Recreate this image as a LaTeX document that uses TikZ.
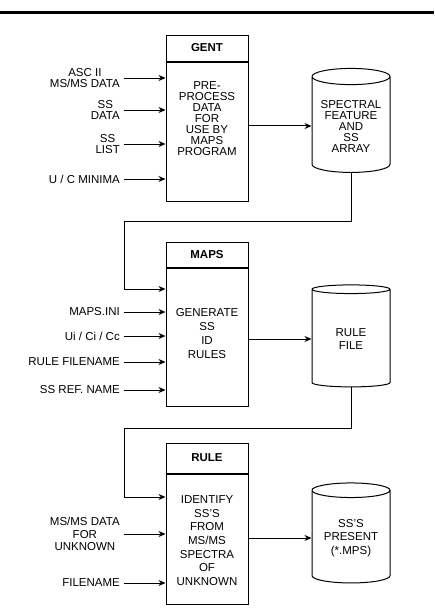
\documentclass[tikz,border=0pt]{standalone}
\usepackage{fontspec}
\setmainfont{Liberation Sans}
\usetikzlibrary{positioning}
\usetikzlibrary{arrows.meta}
\usetikzlibrary{shapes.geometric}

\begin{document}
\begin{tikzpicture}
  [x=1pt, y=-1pt, >={Stealth[length=7pt, width=6pt]},
   every node/.style={font=\fontsize{11.5}{11}\selectfont, align=center, inner sep=2pt},
   title/.style={rectangle, draw, line width=1pt, minimum width=82pt, font=\fontsize{11.5}{11}\selectfont\bfseries},
   job/.style={rectangle, draw, line width=1pt, minimum width=82pt},
   drum/.style={cylinder, draw, line width=1pt, shape border rotate=90, aspect=0.25, minimum width=78pt},
   feed/.style={anchor=east, inner xsep=4pt},
   wide/.style={font=\fontsize{11.5}{13.7}\selectfont},
   flow/.style={->, line width=1pt}]
  \useasboundingbox (0,0) rectangle (434,608);
  \draw[line width=2.5pt] (0,12.5) -- (434,12.5);

  % GENT
  \node (gent) [title, minimum height=26pt] at (207,48) {GENT};
  \node (gentbox) [job, minimum height=139pt, below=0pt of gent] {};
  \node (gentjob) at (207,119) {PRE-\\PROCESS\\DATA\\FOR\\USE BY\\MAPS\\PROGRAM};
  \node (ascii) [feed] at (124,78) {ASC II\\MS/MS DATA};
  \node (ssdata) [feed] at (124,110) {SS\\DATA};
  \node (sslist) [feed] at (124,144) {SS\\LIST};
  \node (minima) [feed] at (124,179) {U / C MINIMA};
  \node (spectra) [drum, minimum height=104pt] at (351,126) {SPECTRAL\\FEATURE\\AND\\SS\\ARRAY};

  % MAPS
  \node (maps) [title, minimum height=25pt] at (207,254.5) {MAPS};
  \node (mapsbox) [job, minimum height=138pt, below=0pt of maps] {};
  \node (mapsjob) [wide] at (207,333.5) {GENERATE\\SS\\ID\\RULES};
  \node (mapsini) [feed] at (124,312) {MAPS.INI};
  \node (ratios) [feed] at (124,336) {Ui / Ci / Cc};
  \node (rulename) [feed] at (124,362) {RULE FILENAME};
  \node (ssref) [feed] at (124,390) {SS REF. NAME};
  \node (rulefile) [drum, wide, minimum height=102pt] at (351,339) {RULE\\FILE};

  % RULE
  \node (rule) [title, minimum height=30pt] at (207,458) {RULE};
  \node (rulebox) [job, minimum height=130pt, below=0pt of rule] {};
  \node (rulejob) [wide] at (207,540.5) {IDENTIFY\\SS'S\\FROM\\MS/MS\\SPECTRA\\OF\\UNKNOWN};
  \node (unknown) [feed, font=\fontsize{11.5}{12.8}\selectfont] at (124,534) {MS/MS DATA\\FOR\\UNKNOWN};
  \node (filename) [feed] at (124,583) {FILENAME};
  \node (present) [drum, wide, minimum height=100pt] at (351,538) {SS'S\\PRESENT\\(*.MPS)};

  \coordinate (bend1) at (124,221);
  \coordinate (mapsin) at (mapsbox.west |- 0,289);
  \coordinate (bend2) at (124,428);
  \coordinate (rulein) at (rulebox.west |- 0,497);

  \draw[flow] (ascii) -- (ascii -| gentbox.west);
  \draw[flow] (ssdata) -- (ssdata -| gentbox.west);
  \draw[flow] (sslist) -- (sslist -| gentbox.west);
  \draw[flow] (minima) -- (minima -| gentbox.west);
  \draw[flow] (gentbox.east |- spectra.west) -- (spectra.west);
  \draw[flow] (spectra.south) |- (bend1) |- (mapsin);

  \draw[flow] (mapsini) -- (mapsini -| mapsbox.west);
  \draw[flow] (ratios) -- (ratios -| mapsbox.west);
  \draw[flow] (rulename) -- (rulename -| mapsbox.west);
  \draw[flow] (ssref) -- (ssref -| mapsbox.west);
  \draw[flow] (mapsbox.east |- rulefile.west) -- (rulefile.west);
  \draw[flow] (rulefile.south) |- (bend2) |- (rulein);

  \draw[flow] (unknown) -- (unknown -| rulebox.west);
  \draw[flow] (filename) -- (filename -| rulebox.west);
  \draw[flow] (rulebox.east |- present.west) -- (present.west);
\end{tikzpicture}
\end{document}
